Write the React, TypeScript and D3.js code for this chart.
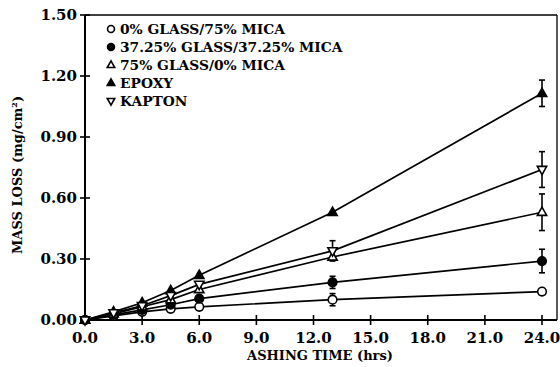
import React from "react";
import * as d3 from "d3";

const hours = [0, 1.5, 3, 4.5, 6, 13, 24];
const glass0 = [0, 0.02, 0.04, 0.055, 0.065, 0.1, 0.14];
const glass37 = [0, 0.025, 0.05, 0.075, 0.105, 0.185, 0.29];
const glass75 = [0, 0.03, 0.065, 0.1, 0.15, 0.31, 0.53];
const epoxy = [0, 0.04, 0.085, 0.145, 0.22, 0.53, 1.115];
const kapton = [0, 0.035, 0.07, 0.12, 0.175, 0.34, 0.74];

const glass0Err = [0, 0, 0, 0, 0, 0.03, 0];
const glass37Err = [0, 0, 0, 0, 0, 0.03, 0.058];
const glass75Err = [0, 0, 0, 0, 0, 0, 0.09];
const epoxyErr = [0, 0, 0, 0, 0, 0, 0.065];
const kaptonErr = [0, 0, 0, 0, 0, 0.05, 0.088];

const xTicks = [0, 3, 6, 9, 12, 15, 18, 21, 24];
const yTicks = [0, 0.3, 0.6, 0.9, 1.2, 1.5];

const legendLabels = [
  "0% GLASS/75% MICA",
  "37.25% GLASS/37.25% MICA",
  "75% GLASS/0% MICA",
  "EPOXY",
  "KAPTON",
];

type Shape = "circleOpen" | "circleFilled" | "triUpOpen" | "triUpFilled" | "triDownOpen";

const series: { values: number[]; errs: number[]; shape: Shape }[] = [
  { values: glass0, errs: glass0Err, shape: "circleOpen" },
  { values: glass37, errs: glass37Err, shape: "circleFilled" },
  { values: glass75, errs: glass75Err, shape: "triUpOpen" },
  { values: epoxy, errs: epoxyErr, shape: "triUpFilled" },
  { values: kapton, errs: kaptonErr, shape: "triDownOpen" },
];

const FONT = "'DejaVu Serif', serif";

function Marker({ shape, x, y, s = 1 }: { shape: Shape; x: number; y: number; s?: number }) {
  const r = 4.3 * s;
  const t = 5.2 * s;
  const common = { stroke: "#000", strokeWidth: 1.6 };
  if (shape === "circleOpen") return <circle cx={x} cy={y} r={r} fill="#fff" {...common} />;
  if (shape === "circleFilled") return <circle cx={x} cy={y} r={r} fill="#000" {...common} />;
  if (shape === "triUpOpen" || shape === "triUpFilled") {
    const p = `${x},${y - t} ${x + t * 0.9},${y + t * 0.6} ${x - t * 0.9},${y + t * 0.6}`;
    return <polygon points={p} fill={shape === "triUpFilled" ? "#000" : "#fff"} {...common} />;
  }
  const p = `${x},${y + t} ${x + t * 0.9},${y - t * 0.6} ${x - t * 0.9},${y - t * 0.6}`;
  return <polygon points={p} fill="#fff" {...common} />;
}

export default function App() {
  const W = 560;
  const H = 367;
  const x = d3.scaleLinear().domain([0, 24]).range([85, 542]);
  const y = d3.scaleLinear().domain([0, 1.5]).range([320, 15]);
  const line = d3
    .line<number>()
    .x((_, i) => x(hours[i]))
    .y((v) => y(v));
  const left = 85;
  const right = 557;
  const top = 15;
  const bottom = 320;

  return (
    <div style={{ position: "absolute", left: 0, top: 0 }}>
      <svg width={W} height={H} style={{ display: "block", background: "#fff" }}>
        <rect x={0} y={0} width={W} height={H} fill="#fff" />
        {/* frame */}
        <line x1={left} y1={top} x2={right} y2={top} stroke="#000" strokeWidth={1.3} />
        <line x1={right} y1={top} x2={right} y2={bottom} stroke="#000" strokeWidth={1.3} />
        <line x1={left} y1={top} x2={left} y2={bottom} stroke="#000" strokeWidth={2} />
        <line x1={left} y1={bottom} x2={right} y2={bottom} stroke="#000" strokeWidth={2} />
        {/* y ticks */}
        {yTicks.map((t) => (
          <g key={"y" + t}>
            <line x1={left - 5} x2={left + 5} y1={y(t)} y2={y(t)} stroke="#000" strokeWidth={1.6} />
            <text
              x={left - 8}
              y={y(t) + 5}
              textAnchor="end"
              fontFamily={FONT}
              fontWeight="bold"
              fontSize={15}
            >
              {t.toFixed(2)}
            </text>
          </g>
        ))}
        {/* x ticks */}
        {xTicks.map((t) => (
          <g key={"x" + t}>
            <line x1={x(t)} x2={x(t)} y1={bottom - 5} y2={bottom + 5} stroke="#000" strokeWidth={1.6} />
            <text
              x={x(t)}
              y={343}
              textAnchor="middle"
              fontFamily={FONT}
              fontWeight="bold"
              fontSize={15}
            >
              {t.toFixed(1)}
            </text>
          </g>
        ))}
        {/* axis titles */}
        <text x={320} y={360} textAnchor="middle" fontFamily={FONT} fontWeight="bold" fontSize={13}>
          ASHING TIME (hrs)
        </text>
        <text
          transform={`translate(22,175) rotate(-90)`}
          textAnchor="middle"
          fontFamily={FONT}
          fontWeight="bold"
          fontSize={13}
        >
          MASS LOSS (mg/cm
          <tspan dy={-5} fontSize={8}>
            2
          </tspan>
          <tspan dy={5}>)</tspan>
        </text>
        {/* lines */}
        {series.map((s, i) => (
          <path key={"l" + i} d={line(s.values) || ""} fill="none" stroke="#000" strokeWidth={1.7} />
        ))}
        {/* error bars */}
        {series.map((s, i) =>
          s.errs.map((e, j) =>
            e > 0 ? (
              <g key={`e${i}-${j}`} stroke="#000" strokeWidth={1.6}>
                <line x1={x(hours[j])} x2={x(hours[j])} y1={y(s.values[j] + e)} y2={y(s.values[j] - e)} />
                <line x1={x(hours[j]) - 3} x2={x(hours[j]) + 3} y1={y(s.values[j] + e)} y2={y(s.values[j] + e)} />
                <line x1={x(hours[j]) - 3} x2={x(hours[j]) + 3} y1={y(s.values[j] - e)} y2={y(s.values[j] - e)} />
              </g>
            ) : null
          )
        )}
        {/* markers */}
        {series.map((s, i) =>
          s.values.map((v, j) => <Marker key={`m${i}-${j}`} shape={s.shape} x={x(hours[j])} y={y(v)} />)
        )}
        {/* legend */}
        {legendLabels.map((lab, i) => (
          <g key={"lg" + i}>
            <Marker shape={series[i].shape} x={111} y={29 + i * 18} s={0.8} />
            <text x={120} y={34 + i * 18} fontFamily={FONT} fontWeight="bold" fontSize={13.8}>
              {lab}
            </text>
          </g>
        ))}
      </svg>
    </div>
  );
}
